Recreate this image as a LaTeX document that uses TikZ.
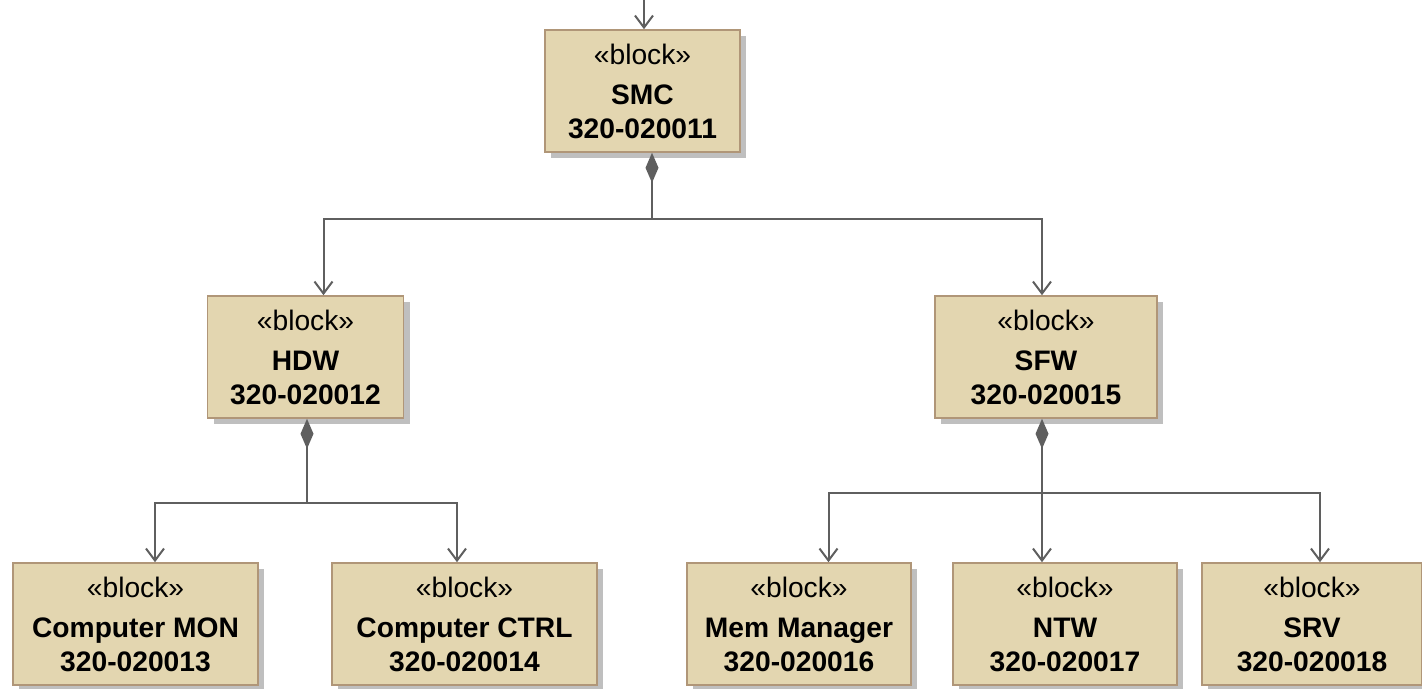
\documentclass[tikz,border=0pt]{standalone}
\usepackage{fontspec}
\setmainfont{Liberation Sans}
\usetikzlibrary{arrows.meta,shadows}
\definecolor{blockfill}{RGB}{227,214,176}
\definecolor{blockedge}{RGB}{176,150,120}
\definecolor{linkgray}{RGB}{95,95,95}

\begin{document}
\begin{tikzpicture}[x=.5pt,y=-.5pt,
    blk/.style={draw=blockedge, line width=.8pt, fill=blockfill, align=center,
      minimum height=61pt, inner sep=0pt,
      font=\fontsize{14.1}{17}\selectfont,
      drop shadow={shadow xshift=3pt, shadow yshift=-3pt, fill=black!25, opacity=1}},
    sub/.style={draw=linkgray, line width=1pt, -{Straight Barb[length=6pt,width=9pt]}},
    part/.style={draw=linkgray, line width=1pt, {Diamond[length=15pt,width=6.5pt]}-}]
\useasboundingbox (0,0) rectangle (1422,689);

\node[blk, minimum width=97.5pt] (smc) at (642.5,91) {«block»\\[3pt]\textbf{SMC}\\\textbf{320-020011}};
\node[blk, minimum width=98pt] (hdw) at (305.5,357) {«block»\\[3pt]\textbf{HDW}\\\textbf{320-020012}};
\node[blk, minimum width=111pt] (sfw) at (1046,357) {«block»\\[3pt]\textbf{SFW}\\\textbf{320-020015}};
\node[blk, minimum width=122.5pt] (mon) at (135.5,624) {«block»\\[3pt]\textbf{Computer\ MON}\\\textbf{320-020013}};
\node[blk, minimum width=132.5pt] (ctrl) at (464.5,624) {«block»\\[3pt]\textbf{Computer\ CTRL}\\\textbf{320-020014}};
\node[blk, minimum width=112pt] (mem) at (799,624) {«block»\\[3pt]\textbf{Mem Manager}\\\textbf{320-020016}};
\node[blk, minimum width=112pt] (ntw) at (1065,624) {«block»\\[3pt]\textbf{NTW}\\\textbf{320-020017}};
\node[blk, minimum width=110pt] (srv) at (1312,624) {«block»\\[3pt]\textbf{SRV}\\\textbf{320-020018}};

\coordinate (src) at (644,0);
\draw[sub] (src) -- (src |- smc.north);

\draw[part] ([xshift=4.75pt]smc.south) -- ++(0,66) coordinate (jsmc);
\draw[sub] (jsmc) -| ([xshift=9pt]hdw.north);
\draw[sub] (jsmc) -| ([xshift=-2pt]sfw.north);

\draw[part] ([xshift=.75pt]hdw.south) -- ++(0,84) coordinate (jhdw);
\draw[sub] (jhdw) -| ([xshift=9.75pt]mon.north);
\draw[sub] (jhdw) -| ([xshift=-3.75pt]ctrl.north);

\draw[part] ([xshift=-2pt]sfw.south) -- ++(0,74) coordinate (jsfw);
\draw[sub] (jsfw) -| ([xshift=14.75pt]mem.north);
\draw[sub] (jsfw) -- ([xshift=-11.5pt]ntw.north);
\draw[sub] (jsfw) -| ([xshift=4pt]srv.north);
\end{tikzpicture}
\end{document}
